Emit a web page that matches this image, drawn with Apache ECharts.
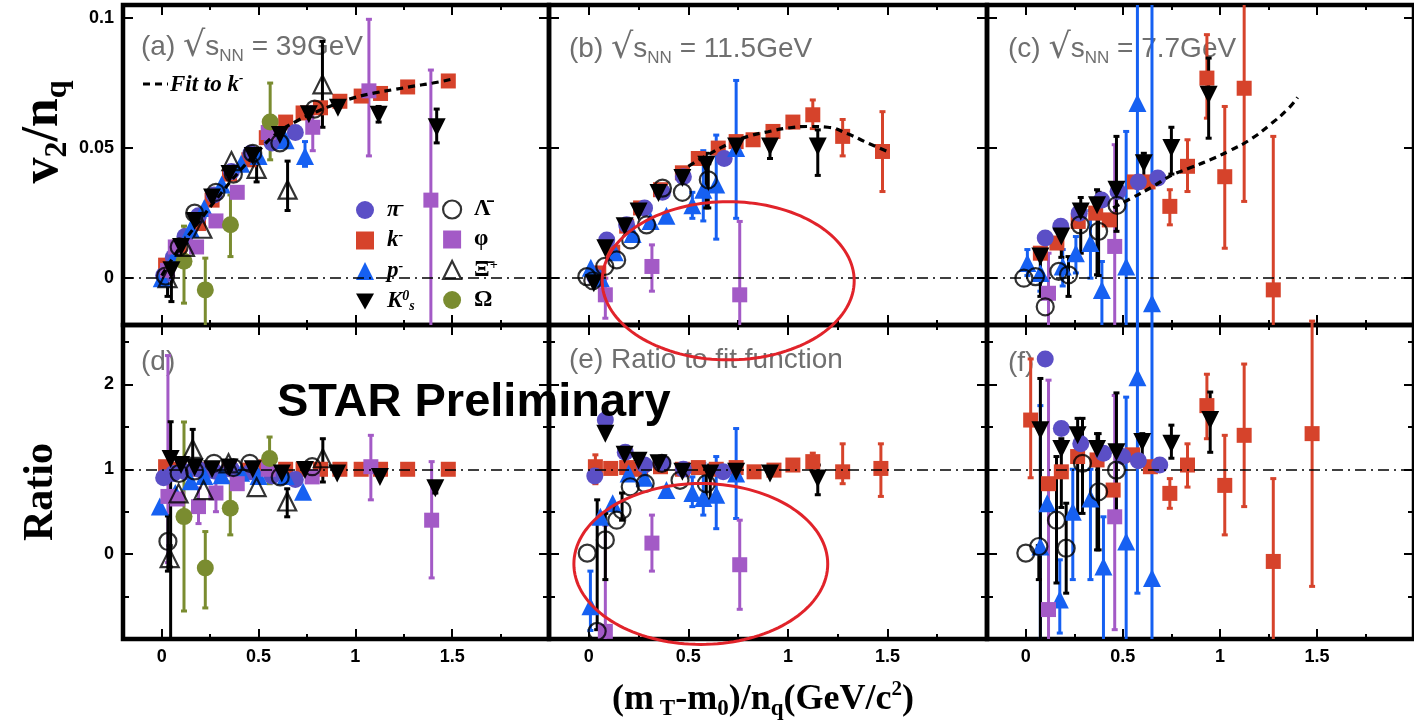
<!DOCTYPE html>
<html><head><meta charset="utf-8">
<script src="https://cdn.jsdelivr.net/npm/echarts@6/dist/echarts.min.js"></script>
<style>html,body{margin:0;padding:0;background:#fff}#c{width:1414px;height:728px}</style>
</head><body><div id="c"></div>
<script>
// ---------------- tick values ----------------
const xTickValues = [0, 0.5, 1, 1.5];
const xMinorTickValues = [0.25, 0.75, 1.25, 1.75];
const v2TickValues = [0, 0.05, 0.1];
const ratioTickValues = [0, 1, 2];
const ratioMinorTickValues = [-0.5, 0.5, 1.5, 2.5];

const panelLabels = ['(a)', '(b)', '(c)', '(d)', '(e) Ratio to fit function', '(f)'];
const energies = ['39GeV', '11.5GeV', '7.7GeV'];

// ---------------- data: [x, y] or [x, y, yLow, yHigh] ----------------
// (a) 39 GeV, v2/nq
const a_k = [[0.02,0.005],[0.09,0.012],[0.19,0.021],[0.26,0.030],[0.35,0.040],[0.45,0.0455],[0.54,0.054],[0.64,0.060],[0.73,0.0635],[0.82,0.0655],[0.92,0.068],[1.03,0.070],[1.13,0.071],[1.27,0.0735],[1.48,0.0758]];
const a_pi = [[0.01,0.001],[0.06,0.008],[0.12,0.016],[0.19,0.024],[0.27,0.032],[0.36,0.041],[0.46,0.048],[0.57,0.052],[0.69,0.056]];
const a_p = [[0.0,0.0],[0.07,0.009],[0.15,0.019],[0.22,0.027],[0.31,0.036],[0.41,0.044],[0.50,0.047],[0.64,0.053],[0.74,0.047,0.043,0.0525]];
const a_K0s = [[0.05,0.003,-0.009,0.01],[0.10,0.012],[0.17,0.022],[0.26,0.031],[0.35,0.040],[0.47,0.047],[0.61,0.055],[0.76,0.063],[0.91,0.0655],[1.12,0.0628,0.060,0.066],[1.42,0.058,0.052,0.065]];
const a_Lambda = [[0.02,0.0008],[0.09,0.012],[0.17,0.025],[0.28,0.033],[0.37,0.040],[0.47,0.048],[0.61,0.052],[0.79,0.065]];
const a_phi = [[0.03,0.003],[0.07,0.012],[0.18,0.012],[0.28,0.022],[0.39,0.033],[0.55,0.056],[0.78,0.058,0.049,0.066],[1.07,0.072,0.047,0.0995],[1.39,0.030,-0.03,0.080]];
const a_Xi = [[0.03,0.0,-0.007,0.004],[0.12,0.012],[0.21,0.019],[0.36,0.045],[0.49,0.042,0.037,0.047],[0.65,0.034,0.026,0.045],[0.83,0.0745,0.058,0.091]];
const a_Omega = [[0.115,0.0065,-0.0096,0.020],[0.225,-0.0045,-0.02,0.0077],[0.355,0.0205,0.0083,0.032],[0.56,0.060,0.0455,0.075]];
const fit_a = [[0.0,0.001],[0.1,0.0125],[0.2,0.0225],[0.3,0.032],[0.4,0.041],[0.5,0.049],[0.6,0.056],[0.7,0.0605],[0.8,0.064],[0.9,0.067],[1.0,0.0695],[1.1,0.0712],[1.2,0.0725],[1.3,0.0738],[1.4,0.075],[1.5,0.0765]];

// (b) 11.5 GeV, v2/nq
const b_k = [[0.05,0.002],[0.12,0.010],[0.19,0.020],[0.26,0.027],[0.36,0.034],[0.47,0.0405],[0.55,0.046],[0.65,0.050],[0.74,0.0525],[0.825,0.0532],[0.925,0.0564],[1.025,0.060],[1.125,0.0628,0.0575,0.0685],[1.275,0.0545,0.047,0.061],[1.475,0.0487,0.0333,0.064]];
const b_pi = [[0.03,0.0005],[0.09,0.0147],[0.19,0.0205],[0.28,0.027],[0.37,0.033],[0.475,0.039],[0.68,0.046]];
const b_p = [[0.01,0.004],[0.06,0.0],[0.13,0.010],[0.22,0.017],[0.31,0.022],[0.39,0.024],[0.52,0.028,0.023,0.033],[0.575,0.034,0.022,0.049],[0.64,0.036,0.015,0.055],[0.74,0.050,0.023,0.076]];
const b_K0s = [[0.025,-0.002],[0.083,0.0115],[0.18,0.020],[0.25,0.0256],[0.35,0.0327],[0.47,0.0385],[0.59,0.0436,0.027,0.048],[0.74,0.0506],[0.91,0.0506,0.046,0.056],[1.15,0.0506,0.0395,0.057]];
const b_Lambda = [[-0.01,0.0006],[0.02,-0.001],[0.08,0.0045],[0.14,0.007],[0.21,0.0147],[0.29,0.0205],[0.37,0.0346],[0.47,0.033],[0.60,0.0378,0.027,0.044]];
const b_phi = [[0.083,-0.0064,-0.0154,0.0],[0.317,0.0045,-0.005,0.0128],[0.758,-0.0064,-0.03,0.0218]];
const fit_b = [[0.5,0.043],[0.6,0.0475],[0.7,0.0515],[0.8,0.0545],[0.9,0.0563],[1.0,0.0577],[1.1,0.0583],[1.2,0.058],[1.3,0.0555],[1.4,0.052],[1.5,0.0487]];

// (c) 7.7 GeV, v2/nq
const c_k = [[0.075,0.0096],[0.16,0.0135],[0.27,0.0218],[0.36,0.025],[0.43,0.0224],[0.56,0.037],[0.63,0.037],[0.742,0.0276,0.0205,0.034],[0.833,0.043,0.0333,0.0532],[0.933,0.0769,0.0615,0.0936],[1.025,0.039,0.0115,0.066],[1.125,0.073,0.0295,0.12],[1.275,-0.0045,-0.03,0.0545],[1.475,-0.045,-0.075,-0.0165]];
const c_pi = [[0.1,0.0154],[0.18,0.020],[0.275,0.025],[0.39,0.030],[0.475,0.0333],[0.58,0.037],[0.68,0.0385]];
const c_p = [[0.008,0.0058,0.001,0.011],[0.075,0.002,-0.005,0.011],[0.19,0.0045,-0.003,0.011],[0.258,0.0096,0.002,0.016],[0.333,0.0135,0.0,0.026],[0.392,-0.0045,-0.03,0.0064],[0.517,0.0045,-0.03,0.0564],[0.575,0.0673,-0.05,0.15],[0.65,-0.0096,-0.05,0.15]];
const c_K0s = [[0.075,0.0083,-0.007,0.0115],[0.183,0.016,0.008,0.018],[0.283,0.0256,0.0096,0.031],[0.367,0.028,0.0013,0.034],[0.467,0.034,0.018,0.0545],[0.608,0.0442,0.039,0.048],[0.75,0.050,0.040,0.058],[0.942,0.0705,0.0538,0.0846]];
const c_Lambda = [[-0.01,0.0],[0.05,0.0006],[0.1,-0.011],[0.17,0.0026],[0.22,0.0013,-0.007,0.0083],[0.28,0.0205],[0.375,0.018,0.001,0.033],[0.47,0.028]];
const c_phi = [[0.117,-0.0058,-0.03,0.0096],[0.458,0.0122,-0.03,0.0513]];
const fit_c = [[0.45,0.027],[0.55,0.031],[0.65,0.035],[0.75,0.0395],[0.85,0.0425],[0.95,0.0455],[1.05,0.049],[1.15,0.053],[1.25,0.0585],[1.35,0.065],[1.4,0.0695]];

// (d) 39 GeV, ratio to fit
const d_k = [[0.02,1.03],[0.09,1.0],[0.19,1.0],[0.26,1.0],[0.35,1.0],[0.45,0.99],[0.54,1.03],[0.64,1.0],[0.73,1.0],[0.82,1.0],[0.92,1.0],[1.03,1.0],[1.13,1.0],[1.27,1.0],[1.48,1.0]];
const d_pi = [[0.01,0.9],[0.06,0.95],[0.12,0.97],[0.19,1.0],[0.27,0.98],[0.36,1.0],[0.46,0.97],[0.57,0.92],[0.69,0.88]];
const d_p = [[-0.01,0.56],[0.07,0.72],[0.15,0.86],[0.22,0.92],[0.31,0.93],[0.41,0.96],[0.5,0.92],[0.64,0.92],[0.73,0.735]];
const d_K0s = [[0.046,1.12,-1.2,1.56],[0.1,1.05],[0.17,1.02],[0.26,1.0],[0.35,1.02],[0.47,1.0],[0.62,0.95],[0.74,0.99],[0.906,0.95],[1.127,0.91],[1.413,0.775,0.72,0.85]];
const d_Lambda = [[0.032,0.15,-0.2,0.45],[0.09,0.95],[0.17,0.98],[0.27,1.07],[0.37,1.02],[0.455,1.07],[0.612,0.91],[0.777,1.03]];
const d_phi = [[0.032,0.68,-0.1,2.34],[0.08,0.65],[0.19,0.56,0.36,0.78],[0.28,0.72,0.5,0.95],[0.39,0.83],[0.55,1.0],[0.777,0.91],[1.08,1.03,0.64,1.4],[1.394,0.40,-0.28,1.09]];
const d_Xi = [[0.041,-0.047,-0.15,0.1],[0.087,0.716],[0.16,1.24,0.97,1.47],[0.216,0.755],[0.345,1.07],[0.49,0.79],[0.648,0.62,0.44,0.77],[0.832,1.13,0.85,1.36]];
const d_Omega = [[0.115,0.442,-0.67,1.557],[0.225,-0.164,-0.634,0.266],[0.354,0.54,0.227,0.853],[0.557,1.127,0.83,1.38]];

// (e) 11.5 GeV, ratio to fit
const e_k = [[0.033,1.03,0.83,1.17],[0.11,1.01],[0.19,1.02],[0.26,1.0],[0.36,1.03],[0.47,1.0],[0.55,1.02],[0.64,1.0],[0.74,1.02],[0.83,0.97],[0.93,0.99],[1.025,1.05],[1.125,1.09,0.98,1.19],[1.275,0.97,0.83,1.3],[1.467,1.01,0.68,1.30]];
const e_pi = [[0.03,0.92],[0.083,1.58],[0.183,1.2],[0.28,1.05],[0.37,1.07],[0.475,1.0],[0.675,0.97]];
const e_p = [[0.008,-0.614,-0.9,-0.2],[0.058,0.44],[0.12,0.6],[0.2,0.95],[0.28,0.9],[0.39,0.755],[0.52,0.72,0.56,0.91],[0.575,0.66,0.46,1.07],[0.64,0.7,0.3,1.15],[0.74,0.95,0.42,1.48]];
const e_K0s = [[0.083,1.42],[0.18,1.17],[0.25,1.1],[0.35,1.07],[0.47,0.97],[0.61,0.95,0.62,1.05],[0.74,0.97],[0.91,0.95],[1.15,0.89,0.7,1.05]];
const e_Lambda = [[-0.008,0.012],[0.042,-0.91,-0.89,0.64],[0.083,0.168,-0.3,0.48],[0.14,0.4],[0.167,0.52,0.4,0.72],[0.208,0.794],[0.283,0.833],[0.367,1.07],[0.458,0.87],[0.59,0.83,0.65,1.0]];
const e_phi = [[0.083,-0.91,-1.1,0.34],[0.317,0.13,-0.2,0.46],[0.758,-0.125,-0.65,0.4]];

// (f) 7.7 GeV, ratio to fit
const f_k = [[0.025,1.58,0.9,2.3],[0.117,0.83],[0.183,0.97],[0.267,1.15],[0.367,1.11],[0.45,0.755],[0.55,1.17],[0.642,1.03],[0.742,0.716,0.54,0.89],[0.833,1.05,0.79,1.3],[0.933,1.75,1.36,2.12],[1.025,0.81,0.227,1.4],[1.125,1.4,0.56,2.24],[1.275,-0.086,-1.2,0.89],[1.475,1.42,-0.38,2.9]];
const f_pi = [[0.1,2.3],[0.183,1.48],[0.283,1.3],[0.4,1.19],[0.5,1.15],[0.58,1.1],[0.69,1.05]];
const f_p = [[0.075,0.09,-1.2,1.75],[0.11,0.6],[0.175,-0.536,-0.93,-0.067],[0.242,0.5,-0.3,1.0],[0.333,0.657,-0.3,1.0],[0.4,-0.145,-1.2,0.44],[0.517,0.15,-1.2,1.85],[0.575,2.085,-0.46,2.9],[0.65,-0.28,-1.2,2.9]];
const f_K0s = [[0.075,1.46,-1.2,2.07],[0.183,1.24,0.55,1.36],[0.267,1.4,0.48,1.6],[0.367,1.24,0.05,1.42],[0.467,1.2,0.44,1.9],[0.6,1.32,1.1,1.42],[0.75,1.3,1.13,1.52],[0.95,1.58,1.2,1.91]];
const f_Lambda = [[0.0,0.012],[0.067,0.09,-0.3,0.1],[0.158,0.40,-0.34,1.15],[0.208,0.07,-0.46,0.6],[0.292,1.07,0.48,1.6],[0.375,0.735,0.05,1.42],[0.467,0.99]];
const f_phi = [[0.117,-0.653,-1.2,2.05],[0.458,0.44,-0.89,1.87]];

// annotation ellipses [centre x, centre y, radius x, radius y] in data units
const ellipse_b = [0.70, -0.001, 0.633, 0.0304];
const ellipse_e = [0.5625, -0.116, 0.6375, 0.948];

// ---------------- assembly ----------------
const panels = [
  {pi:a_pi,k:a_k,p:a_p,K0s:a_K0s,Lambda:a_Lambda,phi:a_phi,Xi:a_Xi,Omega:a_Omega, fit:fit_a, ref:0},
  {pi:b_pi,k:b_k,p:b_p,K0s:b_K0s,Lambda:b_Lambda,phi:b_phi, fit:fit_b, ref:0, ellipse:ellipse_b},
  {pi:c_pi,k:c_k,p:c_p,K0s:c_K0s,Lambda:c_Lambda,phi:c_phi, fit:fit_c, ref:0},
  {pi:d_pi,k:d_k,p:d_p,K0s:d_K0s,Lambda:d_Lambda,phi:d_phi,Xi:d_Xi,Omega:d_Omega, ref:1},
  {pi:e_pi,k:e_k,p:e_p,K0s:e_K0s,Lambda:e_Lambda,phi:e_phi, ref:1, ellipse:ellipse_e},
  {pi:f_pi,k:f_k,p:f_p,K0s:f_K0s,Lambda:f_Lambda,phi:f_phi, ref:1}
];

const downTriangle = 'path://M0,0 L20,0 L10,18 Z';
const styles = {
  k:      {symbol:'rect', size:15, color:'#d6432b'},
  pi:     {symbol:'circle', size:17, color:'#5b4fc6'},
  p:      {symbol:'triangle', size:18, color:'#1660f2'},
  phi:    {symbol:'rect', size:15, color:'#a35ac6'},
  Omega:  {symbol:'circle', size:17, color:'#7a8c30'},
  Lambda: {symbol:'circle', size:17, color:'#000', open:true},
  Xi:     {symbol:'triangle', size:18, color:'#000', open:true},
  K0s:    {symbol:downTriangle, size:18, color:'#000'}
};
const drawOrder = ['k','pi','p','phi','Omega','Lambda','Xi','K0s'];

const grids = [
  {left:123, top:5, width:426, height:320},
  {left:549, top:5, width:438, height:320},
  {left:987, top:5, width:440, height:320},
  {left:123, top:325, width:426, height:314},
  {left:549, top:325, width:438, height:314},
  {left:987, top:325, width:440, height:314}
].map(g => Object.assign(g, {show:true, borderColor:'#000', borderWidth:4.5, backgroundColor:'transparent'}));

const labelFont = {color:'#000', fontFamily:'Liberation Sans', fontWeight:'bold', fontSize:18};
const xAxes = [], yAxes = [];
grids.forEach((g, i) => {
  const bottomRow = i >= 3, leftCol = i % 3 === 0;
  const yMin = bottomRow ? -1.0 : -0.018, yMax = bottomRow ? 2.7 : 0.105;
  const yMaj = bottomRow ? ratioTickValues : v2TickValues;
  const yMinor = bottomRow ? ratioMinorTickValues : [];
  [['bottom', xTickValues, 10, bottomRow], ['bottom', xMinorTickValues, 5, false],
   ['top', xTickValues, 10, false], ['top', xMinorTickValues, 5, false]].forEach(([pos, vals, len, lab]) => {
    xAxes.push({type:'value', gridIndex:i, position:pos, min:-0.2, max:2.0,
      axisLine:{show:false, onZero:false}, splitLine:{show:false},
      axisTick:{show:true, inside:true, length:len, customValues:vals, lineStyle:{color:'#000', width:2}},
      axisLabel:Object.assign({show:lab, customValues:vals, margin:9, formatter:v => String(v)}, labelFont)});
  });
  [['left', yMaj, 10, leftCol], ['left', yMinor, 6, false],
   ['right', yMaj, 10, false], ['right', yMinor, 6, false]].forEach(([pos, vals, len, lab]) => {
    yAxes.push({type:'value', gridIndex:i, position:pos, min:yMin, max:yMax,
      axisLine:{show:false, onZero:false}, splitLine:{show:false},
      axisTick:{show:vals.length > 0, inside:true, length:len, customValues:vals, lineStyle:{color:'#000', width:2}},
      axisLabel:Object.assign({show:lab, customValues:vals, margin:9, formatter:v => String(v)}, labelFont)});
  });
});

function errRender(color) {
  return function (params, api) {
    const x = api.value(0), lo = api.value(2), hi = api.value(3);
    const p1 = api.coord([x, lo]), p2 = api.coord([x, hi]);
    const c = 3, st = {stroke:color, lineWidth:3};
    return {type:'group', children:[
      {type:'line', shape:{x1:p1[0], y1:p1[1], x2:p2[0], y2:p2[1]}, style:st},
      {type:'line', shape:{x1:p1[0]-c, y1:p1[1], x2:p1[0]+c, y2:p1[1]}, style:st},
      {type:'line', shape:{x1:p2[0]-c, y1:p2[1], x2:p2[0]+c, y2:p2[1]}, style:st}
    ]};
  };
}

const series = [];
panels.forEach((pd, i) => {
  const ax = i * 4;
  series.push({type:'line', xAxisIndex:ax, yAxisIndex:ax, data:[], silent:true, z:1,
    markLine:{silent:true, symbol:'none', label:{show:false}, animation:false,
      lineStyle:{color:'#000', width:1.5, type:[11,5,2,5]}, data:[{yAxis:pd.ref}]}});
  drawOrder.forEach(key => {
    const d = pd[key];
    if (!d || !d.length) return;
    const st = styles[key];
    const errs = d.filter(p => p.length === 4);
    if (errs.length) {
      series.push({type:'custom', xAxisIndex:ax, yAxisIndex:ax, clip:true, z:2, silent:true,
        dimensions:['x','y','lo','hi'], encode:{x:0, y:1}, data:errs, renderItem:errRender(st.color)});
    }
  });
  drawOrder.forEach(key => {
    const d = pd[key];
    if (!d || !d.length) return;
    const st = styles[key];
    series.push({type:'scatter', name:key, xAxisIndex:ax, yAxisIndex:ax, clip:true, z:3,
      data:d.map(p => [p[0], p[1]]), symbol:st.symbol, symbolSize:st.size,
      itemStyle: st.open ? {color:'transparent', borderColor:'#000', borderWidth:2.2} : {color:st.color, opacity:1}});
  });
  if (pd.fit) {
    series.push({type:'line', xAxisIndex:ax, yAxisIndex:ax, data:pd.fit, smooth:true, showSymbol:false, z:5, silent:true,
      lineStyle:{color:'#000', width:3.2, type:[7,5]}});
  }
  if (pd.ellipse) {
    series.push({type:'custom', xAxisIndex:ax, yAxisIndex:ax, clip:false, z:20, silent:true,
      dimensions:['cx','cy','rx','ry'], encode:{x:0, y:1}, data:[pd.ellipse],
      renderItem:(params, api) => {
        const cx = api.value(0), cy = api.value(1), rx = api.value(2), ry = api.value(3);
        const pts = [];
        for (let k = 0; k <= 144; k++) {
          const t = k / 144 * 2 * Math.PI;
          pts.push(api.coord([cx + rx * Math.cos(t), cy + ry * Math.sin(t)]));
        }
        return {type:'polyline', shape:{points:pts}, style:{stroke:'#e1232a', lineWidth:3, fill:null}};
      }});
  }
});

const legendLabels = {
  pi:'{i|π}{u|-}', k:'{i|k}{u|-}', p:'{i|p}{u|-}', K0s:'{i|K}{u|0}{d|s}',
  Lambda:'{r|Λ\u0304}', phi:'{r|φ}', Xi:'{r|Ξ\u0304}{u|+}', Omega:'{r|Ω}'
};
const legendRich = {
  i:{fontFamily:'Liberation Serif', fontStyle:'italic', fontWeight:'bold', fontSize:23, color:'#000', padding:[0,0,0,8], lineHeight:24},
  r:{fontFamily:'Liberation Serif', fontWeight:'bold', fontSize:23, color:'#000', padding:[0,0,0,8], lineHeight:24},
  u:{fontFamily:'Liberation Serif', fontStyle:'italic', fontWeight:'bold', fontSize:14, color:'#000', verticalAlign:'top', lineHeight:14},
  d:{fontFamily:'Liberation Serif', fontStyle:'italic', fontWeight:'bold', fontSize:14, color:'#000', verticalAlign:'bottom', lineHeight:14}
};
function legendItem(name) {
  const st = styles[name];
  const it = {name:name, icon:st.symbol};
  if (st.open) it.itemStyle = {color:'transparent', borderColor:'#000', borderWidth:2.2};
  return it;
}
const legendBase = {orient:'vertical', top:193, itemWidth:18, itemHeight:18, itemGap:7, selectedMode:false,
  formatter:n => legendLabels[n], textStyle:{rich:legendRich}};

const serifBold = 'Liberation Serif';
const grey = '#6f6f6f';
function panelTitle(i, x, y) {
  const rich = {
    g:{fontFamily:'Liberation Sans', fontSize:28, fill:grey},
    r:{fontFamily:'DejaVu Sans', fontSize:35, fill:grey},
    n:{fontFamily:'Liberation Sans', fontSize:17, fill:grey, verticalAlign:'bottom', lineHeight:22}
  };
  const txt = i < 3 ? '{g|' + panelLabels[i] + ' }{r|√}{g|s}{n|NN}{g| = ' + energies[i] + '}' : '{g|' + panelLabels[i] + '}';
  return {type:'text', x:x, y:y, z:1, style:{text:txt, rich:rich, verticalAlign:'middle', align:'left'}};
}

const graphic = [
  panelTitle(0, 141, 47), panelTitle(1, 569, 49), panelTitle(2, 1008, 49),
  panelTitle(3, 141, 362), panelTitle(4, 569, 360), panelTitle(5, 1008, 363),
  {type:'line', z:6, shape:{x1:143, y1:84, x2:168, y2:84}, style:{stroke:'#000', lineWidth:3, lineDash:[7,5]}},
  {type:'text', x:170, y:85, z:6, style:{text:'{f|Fit to k}{u|-}', verticalAlign:'middle', rich:{
    f:{fontFamily:serifBold, fontStyle:'italic', fontWeight:'bold', fontSize:23, fill:'#000', lineHeight:26},
    u:{fontFamily:serifBold, fontStyle:'italic', fontWeight:'bold', fontSize:13, fill:'#000', verticalAlign:'top', lineHeight:13}}}},
  {type:'text', x:44, y:132, rotation:Math.PI/2, z:6, style:{text:'{m|v}{s|2}{m|/n}{s|q}', align:'center', verticalAlign:'middle', rich:{
    m:{fontFamily:serifBold, fontWeight:'bold', fontSize:52, fill:'#000', lineHeight:60},
    s:{fontFamily:serifBold, fontWeight:'bold', fontSize:32, fill:'#000', verticalAlign:'bottom', lineHeight:34}}}},
  {type:'text', x:41, y:492, rotation:Math.PI/2, z:6, style:{text:'Ratio', align:'center', verticalAlign:'middle',
    fontFamily:serifBold, fontWeight:'bold', fontSize:42, fill:'#000'}},
  {type:'text', x:763, y:700, z:6, style:{text:'{m|(m}{s| T}{m|-m}{s|0}{m|)/n}{s|q}{m|(GeV/c}{p|2}{m|)}', align:'center', verticalAlign:'middle', rich:{
    m:{fontFamily:serifBold, fontWeight:'bold', fontSize:36, fill:'#000', lineHeight:42},
    s:{fontFamily:serifBold, fontWeight:'bold', fontSize:23, fill:'#000', verticalAlign:'bottom', lineHeight:24},
    p:{fontFamily:serifBold, fontWeight:'bold', fontSize:21, fill:'#000', verticalAlign:'top', lineHeight:22}}}},
  {type:'text', x:277, y:403, z:60, style:{text:'STAR Preliminary', align:'left', verticalAlign:'middle',
    fontFamily:'Liberation Sans', fontWeight:'bold', fontSize:47, fill:'#000'}}
];

const chart = echarts.init(document.getElementById('c'), null, {renderer:'canvas'});
chart.setOption({
  animation:false,
  backgroundColor:'#fff',
  grid:grids, xAxis:xAxes, yAxis:yAxes,
  legend:[
    Object.assign({left:351, data:['pi','k','p','K0s'].map(legendItem)}, legendBase),
    Object.assign({left:437, data:['Lambda','phi','Xi','Omega'].map(legendItem)}, legendBase)
  ],
  series:series,
  graphic:graphic
});
</script></body></html>
